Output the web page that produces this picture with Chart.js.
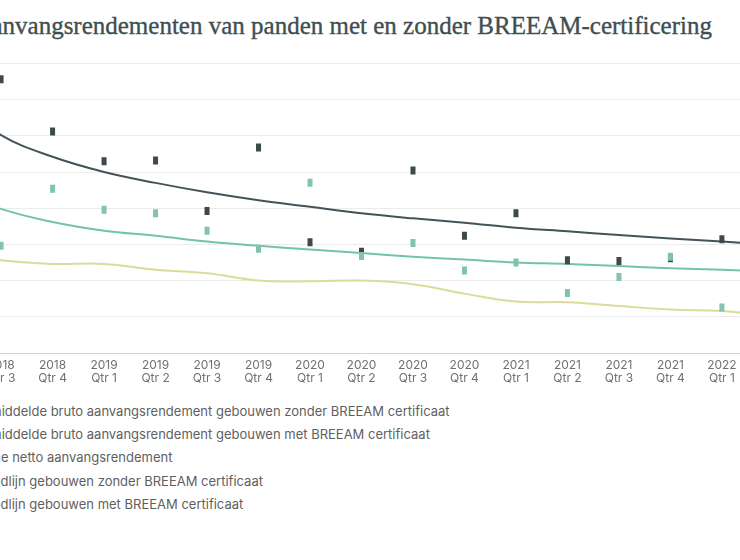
<!DOCTYPE html>
<html>
<head>
<meta charset="utf-8">
<script src="https://cdn.jsdelivr.net/npm/chart.js@4/dist/chart.umd.min.js"></script>
<style>
  html, body { margin: 0; padding: 0; background: #fff; overflow: hidden; }
  body { width: 740px; height: 560px; position: relative; }
  #title {
    position: absolute; right: 28px; top: 12px; white-space: nowrap;
    font-family: "Liberation Serif", serif; font-size: 25px; color: #3e4f51;
    -webkit-text-stroke: 0.35px #3e4f51;
  }
  #wrap { position: absolute; left: -100px; top: 0; width: 920px; height: 400px; }
  #legend { position: absolute; left: -60px; top: 400px; font-family: Inter, sans-serif; font-size: 13px; color: #5f5f5f; }
  #legend div { height: 23.2px; line-height: 23.2px; white-space: nowrap; }
  #legend span.sw { display: inline-block; width: 20px; height: 3px; margin-right: 13px; vertical-align: middle; }
</style>
</head>
<body>
<div id="title">Bruto aanvangsrendementen van panden met en zonder BREEAM-certificering</div>
<div id="wrap"><canvas id="chart"></canvas></div>
<div id="legend"></div>
<script>
// Quarters (first and last are beyond the visible crop)
const quarters = ['2018 Qtr 2', '2018 Qtr 3', '2018 Qtr 4', '2019 Qtr 1', '2019 Qtr 2', '2019 Qtr 3', '2019 Qtr 4',
  '2020 Qtr 1', '2020 Qtr 2', '2020 Qtr 3', '2020 Qtr 4', '2021 Qtr 1', '2021 Qtr 2', '2021 Qtr 3', '2021 Qtr 4',
  '2022 Qtr 1', '2022 Qtr 2'];

// gemiddeld bruto aanvangsrendement (%)
const zonderBreeam = [null, 6.78, 6.06, 5.65, 5.66, 4.96, 5.84, 4.53, 4.40, 5.52, 4.62, 4.93, 4.28, 4.27, 4.31, 4.57, null];
const metBreeam = [null, 4.48, 5.27, 4.98, 4.93, 4.69, 4.44, 5.35, 4.34, 4.52, 4.14, 4.25, 3.83, 4.05, 4.33, 3.63, null];
const primeNetto = [4.35, 4.28, 4.23, 4.23, 4.15, 4.10, 4.00, 3.99, 4.00, 3.95, 3.82, 3.71, 3.70, 3.65, 3.60, 3.58, 3.51];
const trendZonder = [6.54, 6.01, 5.71, 5.50, 5.35, 5.22, 5.11, 5.02, 4.93, 4.86, 4.80, 4.73, 4.68, 4.63, 4.58, 4.54, 4.49];
const trendMet = [5.28, 4.99, 4.81, 4.69, 4.62, 4.54, 4.48, 4.43, 4.38, 4.33, 4.29, 4.25, 4.23, 4.20, 4.17, 4.15, 4.12];

const seriesNames = [
  'Gemiddelde bruto aanvangsrendement gebouwen zonder BREEAM certificaat',
  'Gemiddelde bruto aanvangsrendement gebouwen met BREEAM certificaat',
  'Prime netto aanvangsrendement',
  'Trendlijn gebouwen zonder BREEAM certificaat',
  'Trendlijn gebouwen met BREEAM certificaat'
];

const DARK = '#3c4a4c', TEAL = '#80c3b2', YELLOW = '#dcdc98', TDARK = '#44535a', TTEAL = '#74c2ad';

function marker(data, color, name, order) {
  return {
    label: name, data, order, showLine: false,
    pointStyle: 'line', rotation: 90, pointRadius: 4, pointHoverRadius: 4,
    pointBorderWidth: 5, pointBorderColor: color, pointBackgroundColor: color,
    borderColor: color, backgroundColor: color
  };
}
function curve(data, color, name, order) {
  return {
    label: name, data, order, borderColor: color, backgroundColor: color,
    borderWidth: 2, pointRadius: 0, tension: 0.4, fill: false
  };
}

const datasets = [
  marker(zonderBreeam, DARK, seriesNames[0], 1),
  marker(metBreeam, TEAL, seriesNames[1], 0),
  curve(primeNetto, YELLOW, seriesNames[2], 4),
  curve(trendZonder, TDARK, seriesNames[3], 2),
  curve(trendMet, TTEAL, seriesNames[4], 3)
];

// "2018 Qtr 3" -> ["2018", "Qtr 3"]
const tickLabels = quarters.map(q => [q.slice(0, 4), q.slice(5)]);

const chart = new Chart(document.getElementById('chart'), {
  type: 'line',
  data: { labels: tickLabels, datasets },
  options: {
    responsive: true,
    maintainAspectRatio: false,
    animation: false,
    layout: { padding: { left: 49.6, right: 46.6, top: 63.4, bottom: 0 } },
    plugins: { legend: { display: false }, tooltip: { enabled: false } },
    scales: {
      x: {
        offset: false,
        grid: { display: false, drawTicks: false },
        border: { display: true, color: '#d2d2d2', width: 1 },
        ticks: { padding: 6, color: '#707070', maxRotation: 0, autoSkip: false,
          font: { family: 'Inter', size: 12, lineHeight: 1.08 } },
        afterFit: s => { s.height = 47; }
      },
      y: {
        min: 3, max: 7,
        grid: { color: '#ebebeb', lineWidth: 1, drawTicks: false },
        border: { display: false },
        ticks: { display: false, stepSize: 0.5 },
        afterFit: s => { s.width = 0; }
      }
    }
  }
});

// HTML legend, one item per row
const legend = document.getElementById('legend');
datasets.forEach(ds => {
  const row = document.createElement('div');
  const sw = document.createElement('span');
  sw.className = 'sw';
  sw.style.background = ds.borderColor;
  row.appendChild(sw);
  row.appendChild(document.createTextNode(ds.label));
  legend.appendChild(row);
});
</script>
</body>
</html>
